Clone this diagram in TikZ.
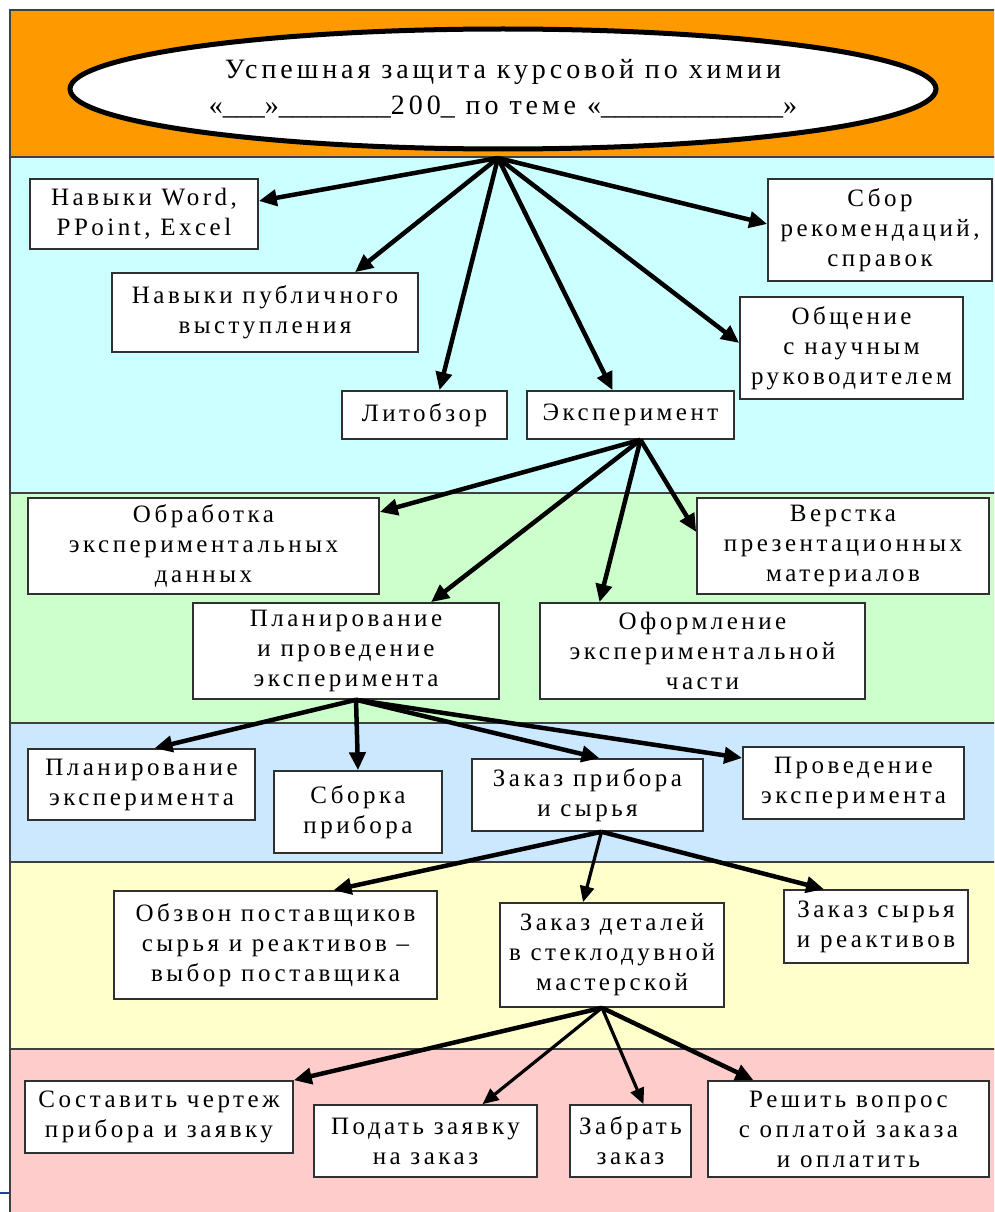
\documentclass[tikz,border=0pt]{standalone}
\usepackage{fontspec}
\setmainfont{Liberation Serif}[LetterSpace=14]
\newfontfamily\plainserif{Liberation Serif}
\usetikzlibrary{shapes.geometric,arrows.meta}
\definecolor{cOrange}{HTML}{FF9900}
\definecolor{cCyan}{HTML}{CCFFFF}
\definecolor{cGreen}{HTML}{CCFFCC}
\definecolor{cBlue}{HTML}{CCE8FF}
\definecolor{cYellow}{HTML}{FFFFCC}
\definecolor{cPink}{HTML}{FFCCCC}
\definecolor{boxline}{HTML}{303030}
\definecolor{bandline}{HTML}{404040}
\definecolor{slideblue}{HTML}{2040A0}
\begin{document}
\begin{tikzpicture}[x=1pt,y=-1pt,
  box/.style={draw=boxline, line width=1.6pt, fill=white, align=center, inner sep=0pt,
    font=\fontsize{25}{30}\selectfont},
  arr/.style={line width=4.5pt, black, -{Triangle[length=18pt,width=16pt]}},
  thinarr/.style={line width=3.2pt, black, -{Triangle[length=16pt,width=14pt]}},
  band/.style={draw=bandline, line width=1.6pt}]
\useasboundingbox (0,0) rectangle (994,1212);
\clip (0,0) rectangle (994,1212);
% bands
\fill[white] (0,0) rectangle (994,1212);
\filldraw[band, fill=cOrange] (10,10) rectangle (1010,157);
\filldraw[band, fill=cCyan] (10,157) rectangle (1010,493);
\filldraw[band, fill=cGreen] (10,493) rectangle (1010,723);
\filldraw[band, fill=cBlue] (10,723) rectangle (1010,862);
\filldraw[band, fill=cYellow] (10,862) rectangle (1010,1049);
\filldraw[band, fill=cPink] (10,1049) rectangle (1010,1230);
\draw[slideblue, line width=1.5pt] (0,1193) -- (9,1193);
% title
\node[ellipse, draw=black, line width=5pt, fill=white, minimum width=866pt, minimum height=120pt,
  align=center, inner sep=0pt, font=\fontsize{28}{36}\selectfont] (title) at (503,89)
  {Успешная защита курсовой по химии\\
   «{\plainserif\_\_\_}»{\plainserif\_\_\_\_\_\_\_\_}200{\plainserif\_} по теме «{\plainserif\_\_\_\_\_\_\_\_\_\_\_\_\_}»};
\coordinate (h0) at (498,158);
% level 1
\node[box, minimum width=228pt, minimum height=70pt] (word) at (144,214) {Навыки Word,\\PPoint, Excel};
\node[box, minimum width=306pt, minimum height=79pt] (public) at (265,312.5) {Навыки публичного\\выступления};
\node[box, minimum width=165pt, minimum height=48pt] (lit) at (424.5,415) {Литобзор};
\node[box, minimum width=207pt, minimum height=48pt] (exp) at (630.5,415) {Эксперимент};
\node[box, minimum width=223pt, minimum height=102pt] (obsch) at (851.5,348) {Общение\\с научным\\руководителем};
\node[box, minimum width=224pt, minimum height=102pt] (sbor) at (880,230) {Сбор\\рекомендаций,\\справок};
% level 2
\node[box, minimum width=351pt, minimum height=96pt] (obr) at (203.5,546) {Обработка\\экспериментальных\\данных};
\node[box, minimum width=292pt, minimum height=96pt] (verst) at (843,546) {Верстка\\презентационных\\материалов};
\node[box, minimum width=306pt, minimum height=96pt] (plan) at (346,651) {Планирование\\и проведение\\эксперимента};
\node[box, minimum width=325pt, minimum height=96pt] (oform) at (702.5,651) {Оформление\\экспериментальной\\части};
% level 3
\node[box, minimum width=227pt, minimum height=71pt] (planexp) at (141.5,784.5) {Планирование\\эксперимента};
\node[box, minimum width=168pt, minimum height=82pt] (sborka) at (358,812) {Сборка\\прибора};
\node[box, minimum width=231pt, minimum height=72pt] (zakaz) at (587.5,795) {Заказ прибора\\и сырья};
\node[box, minimum width=221pt, minimum height=72pt] (proved) at (853.5,783) {Проведение\\эксперимента};
% level 4
\node[box, minimum width=323pt, minimum height=108pt] (obzvon) at (275.5,945) {Обзвон поставщиков\\сырья и реактивов –\\выбор поставщика};
\node[box, minimum width=224pt, minimum height=104pt] (detali) at (612,955) {Заказ деталей\\в стеклодувной\\мастерской};
\node[box, minimum width=184pt, minimum height=73pt] (syrya) at (876,926.5) {Заказ сырья\\и реактивов};
% level 5
\node[box, minimum width=268pt, minimum height=72pt] (chert) at (159,1117) {Составить чертеж\\прибора и заявку};
\node[box, minimum width=223pt, minimum height=72pt] (podat) at (425.5,1141) {Подать заявку\\на заказ};
\node[box, minimum width=121pt, minimum height=72pt] (zabrat) at (630.5,1141) {Забрать\\заказ};
\node[box, minimum width=281pt, minimum height=96pt] (reshit) at (848.5,1129) {Решить вопрос\\с оплатой заказа\\и оплатить};
% hubs
\coordinate (h1) at ([xshift=10pt]exp.south);
\coordinate (h2) at ([xshift=10pt]plan.south);
\coordinate (h3) at ([xshift=14pt]zakaz.south);
\coordinate (h4) at ([xshift=-10pt]detali.south);
% arrows
\draw[arr] (h0) -- ([yshift=13pt]word.east);
\draw[arr] (h0) -- ([xshift=90pt]public.north);
\draw[arr] (h0) -- ([xshift=15pt]lit.north);
\draw[arr] (h0) -- ([xshift=-18pt]exp.north);
\draw[arr] (h0) -- ([yshift=5pt]obsch.west);
\draw[arr] (h0) -- ([yshift=6pt]sbor.west);
\draw[arr] (h1) -- ([yshift=34pt]obr.east);
\draw[arr] (h1) -- ([xshift=85pt]plan.north);
\draw[arr] (h1) -- ([xshift=-103pt]oform.north);
\draw[arr] (h1) -- ([yshift=14pt]verst.west);
\draw[arr] (h2) -- ([xshift=13pt]planexp.north);
\draw[arr] (h2) -- (sborka.north);
\draw[arr] (h2) -- ([xshift=12pt]zakaz.north);
\draw[arr] (h2) -- ([yshift=25pt]proved.west);
\draw[arr] (h3) -- ([xshift=58pt]obzvon.north);
\draw[thinarr] (h3) -- ([xshift=-29pt]detali.north);
\draw[arr] (h3) -- ([xshift=-52pt]syrya.north);
\draw[arr] (h4) -- (chert.north east);
\draw[thinarr] (h4) -- ([xshift=57pt]podat.north);
\draw[thinarr] (h4) -- ([xshift=13pt]zabrat.north);
\draw[arr] (h4) -- ([xshift=-95pt]reshit.north);
\end{tikzpicture}
\end{document}
